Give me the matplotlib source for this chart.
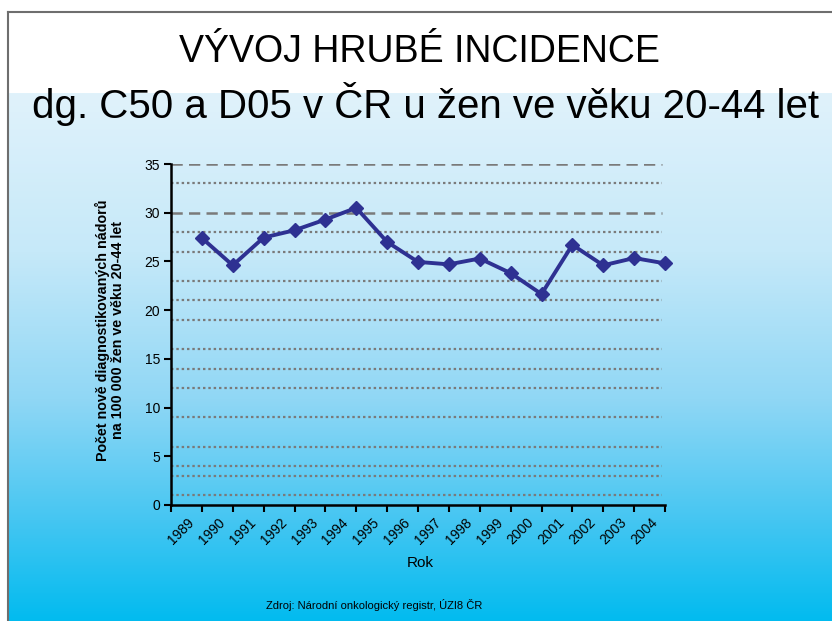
import matplotlib
matplotlib.use("Agg")
import matplotlib.pyplot as plt
import matplotlib.transforms as mtransforms
from matplotlib.colors import LinearSegmentedColormap
import numpy as np

years = ["1989", "1990", "1991", "1992", "1993", "1994", "1995", "1996",
         "1997", "1998", "1999", "2000", "2001", "2002", "2003", "2004"]
incidence = [27.4, 24.6, 27.45, 28.2, 29.3, 30.5, 27.0, 24.95,
             24.7, 25.3, 23.8, 21.65, 26.7, 24.6, 25.35, 24.8]
dashed_levels = [35, 30]
dotted_levels = [33, 28, 26, 23, 21, 19, 16, 14, 12, 9, 6, 4, 3, 1]

W, H = 832, 621
FONTS = ["Liberation Sans", "DejaVu Sans"]
NAVY = "#2e3192"


def fx(x):
    return x / W


def fy(y):
    return 1 - y / H


fig = plt.figure(figsize=(W / 100, H / 100), dpi=100)

# background: white head, blue gradient below, grey frame on left and top
bg = fig.add_axes([0, 0, 1, 1])
bg.set_xlim(0, W)
bg.set_ylim(H, 0)
bg.axis("off")
cmap = LinearSegmentedColormap.from_list("bg", [
    (0.0, "#e0f2fb"), (0.30, "#c6e9f9"), (0.58, "#90d7f5"),
    (0.81, "#45c6f2"), (1.0, "#02bbef")])
grad = np.linspace(0, 1, 256).reshape(-1, 1)
bg.imshow(grad, cmap=cmap, aspect="auto", extent=(8, W, H, 93), zorder=0)
bg.plot([8, 8], [12, H], color="#6e6e6e", lw=1.5, zorder=1)
bg.plot([8, W], [12, 12], color="#6e6e6e", lw=1.5, zorder=1)

fig.text(fx(419), fy(52), "VÝVOJ HRUBÉ INCIDENCE", ha="center", va="center",
         fontsize=27, family=FONTS)
fig.text(fx(425), fy(104), "dg. C50 a D05 v ČR u žen ve věku 20-44 let",
         ha="center", va="center", fontsize=29, family=FONTS)

ax = fig.add_axes([fx(171), fy(505), (665 - 171) / W, (505 - 164) / H])
ax.patch.set_visible(False)
x = np.arange(1, len(years) + 1)

ax.hlines(dashed_levels, 0, len(years) - 0.1, colors="#7a7a7a", lw=1.8,
          linestyles=(0, (4.5, 2.5)), zorder=1)
ax.hlines(dotted_levels, 0, len(years) - 0.1, colors="#7a7a7a", lw=1.6,
          linestyles=(0, (1.1, 1.3)), zorder=1)

ax.plot(x, incidence, color=NAVY, lw=2.8, marker="D", markersize=7,
        zorder=3, clip_on=False)

ax.set_xlim(0, len(years))
ax.set_ylim(0, 35)
ax.set_yticks(np.arange(0, 36, 5))
ax.set_xticks(x)
ax.set_xticklabels(years, rotation=45, ha="right", va="top")
ax.set_xticks(np.arange(0, len(years) + 1), minor=True)
for s in ["top", "right"]:
    ax.spines[s].set_visible(False)
for s in ["left", "bottom"]:
    ax.spines[s].set_linewidth(1.8)
ax.tick_params(axis="both", direction="out", length=5, width=1.5,
               labelsize=10, pad=3)
ax.tick_params(axis="x", which="minor", length=5, width=1.5)
ax.tick_params(axis="x", which="major", length=5, width=1.5, pad=1)
for lbl in ax.get_xticklabels() + ax.get_yticklabels():
    lbl.set_family(FONTS)
shift = mtransforms.ScaledTranslation(-5 / 100, -2 / 100, fig.dpi_scale_trans)
for lbl in ax.get_xticklabels():
    lbl.set_transform(lbl.get_transform() + shift)

fig.text(fx(110), fy(330),
         "Počet nově diagnostikovaných nádorů\nna 100 000 žen ve věku 20-44 let",
         rotation=90, ha="center", va="center", fontsize=10.3,
         fontweight="bold", linespacing=1.15, family=FONTS)
fig.text(fx(420), fy(563), "Rok", ha="center", va="center", fontsize=11,
         family=FONTS)
fig.text(fx(374), fy(605), "Zdroj: Národní onkologický registr, ÚZI8 ČR",
         ha="center", va="center", fontsize=8, family=FONTS)

fig.savefig("out.png", dpi=100)
